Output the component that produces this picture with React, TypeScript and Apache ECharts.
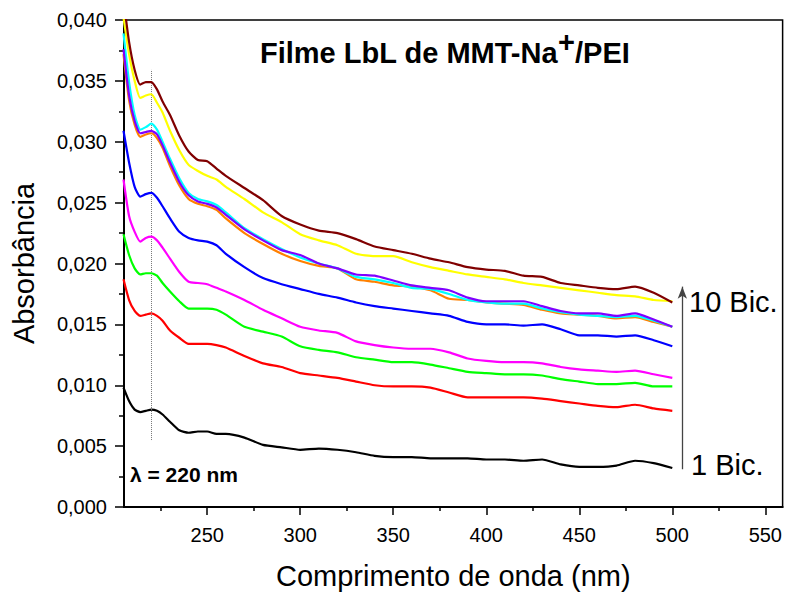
import React, { useEffect, useRef } from "react";
import * as echarts from "echarts";

const wavelengths = [205, 208, 211, 214, 217, 220, 223, 226, 230, 235, 240, 245, 250, 255, 260, 270, 280, 290, 300, 310, 320, 330, 340, 350, 360, 370, 380, 390, 400, 410, 420, 430, 440, 450, 460, 470, 480, 490, 500];

const bic1 = [0.0098, 0.0087, 0.0080, 0.0078, 0.0079, 0.0080, 0.0079, 0.0076, 0.0070, 0.0063, 0.0061, 0.0062, 0.0062, 0.0060, 0.0060, 0.0057, 0.0051, 0.0049, 0.0047, 0.0048, 0.0047, 0.0045, 0.0042, 0.0041, 0.0041, 0.0040, 0.0040, 0.0040, 0.0039, 0.0039, 0.0038, 0.0039, 0.0035, 0.0033, 0.0033, 0.0034, 0.0038, 0.0036, 0.0032];
const bic2 = [0.0187, 0.0170, 0.0161, 0.0157, 0.0158, 0.0159, 0.0157, 0.0153, 0.0145, 0.0139, 0.0134, 0.0134, 0.0134, 0.0133, 0.0131, 0.0124, 0.0118, 0.0115, 0.0110, 0.0108, 0.0106, 0.0103, 0.0100, 0.0099, 0.0099, 0.0098, 0.0094, 0.0090, 0.0090, 0.0090, 0.0090, 0.0089, 0.0087, 0.0085, 0.0083, 0.0082, 0.0084, 0.0081, 0.0079];
const bic3 = [0.0224, 0.0207, 0.0196, 0.0191, 0.0192, 0.0192, 0.0190, 0.0184, 0.0177, 0.0169, 0.0163, 0.0163, 0.0163, 0.0162, 0.0158, 0.0148, 0.0144, 0.0140, 0.0132, 0.0129, 0.0127, 0.0123, 0.0121, 0.0119, 0.0119, 0.0117, 0.0114, 0.0111, 0.0110, 0.0109, 0.0109, 0.0108, 0.0105, 0.0103, 0.0101, 0.0101, 0.0102, 0.0099, 0.0099];
const bic4 = [0.0269, 0.0239, 0.0226, 0.0218, 0.0221, 0.0222, 0.0219, 0.0213, 0.0204, 0.0193, 0.0185, 0.0184, 0.0183, 0.0180, 0.0177, 0.0170, 0.0162, 0.0155, 0.0148, 0.0145, 0.0143, 0.0136, 0.0133, 0.0131, 0.0130, 0.0130, 0.0127, 0.0122, 0.0120, 0.0119, 0.0119, 0.0118, 0.0115, 0.0113, 0.0112, 0.0111, 0.0112, 0.0109, 0.0106];
const bic5 = [0.0309, 0.0283, 0.0263, 0.0255, 0.0257, 0.0258, 0.0254, 0.0247, 0.0237, 0.0226, 0.0221, 0.0219, 0.0218, 0.0215, 0.0208, 0.0197, 0.0188, 0.0183, 0.0179, 0.0175, 0.0172, 0.0168, 0.0165, 0.0163, 0.0161, 0.0159, 0.0157, 0.0152, 0.0150, 0.0150, 0.0149, 0.0150, 0.0146, 0.0141, 0.0141, 0.0140, 0.0141, 0.0137, 0.0132];
const bic6 = [0.0372, 0.0334, 0.0314, 0.0304, 0.0306, 0.0307, 0.0303, 0.0295, 0.0280, 0.0264, 0.0253, 0.0249, 0.0247, 0.0244, 0.0237, 0.0225, 0.0216, 0.0208, 0.0202, 0.0198, 0.0196, 0.0187, 0.0185, 0.0182, 0.0181, 0.0178, 0.0171, 0.0170, 0.0168, 0.0167, 0.0166, 0.0162, 0.0159, 0.0158, 0.0157, 0.0155, 0.0156, 0.0152, 0.0148];
const bic7 = [0.0389, 0.0349, 0.0322, 0.0310, 0.0312, 0.0315, 0.0310, 0.0300, 0.0286, 0.0270, 0.0258, 0.0253, 0.0251, 0.0248, 0.0242, 0.0229, 0.0220, 0.0212, 0.0205, 0.0200, 0.0196, 0.0189, 0.0187, 0.0184, 0.0180, 0.0179, 0.0175, 0.0170, 0.0168, 0.0167, 0.0167, 0.0163, 0.0160, 0.0158, 0.0157, 0.0156, 0.0157, 0.0153, 0.0148];
const bic8 = [0.0376, 0.0338, 0.0317, 0.0307, 0.0308, 0.0309, 0.0306, 0.0297, 0.0283, 0.0267, 0.0256, 0.0251, 0.0249, 0.0246, 0.0240, 0.0228, 0.0219, 0.0211, 0.0207, 0.0200, 0.0196, 0.0191, 0.0190, 0.0186, 0.0182, 0.0180, 0.0178, 0.0172, 0.0169, 0.0169, 0.0169, 0.0165, 0.0161, 0.0159, 0.0159, 0.0157, 0.0159, 0.0154, 0.0148];
const bic9 = [0.0402, 0.0372, 0.0350, 0.0336, 0.0338, 0.0339, 0.0332, 0.0324, 0.0309, 0.0293, 0.0281, 0.0276, 0.0272, 0.0269, 0.0263, 0.0253, 0.0242, 0.0234, 0.0224, 0.0219, 0.0215, 0.0208, 0.0206, 0.0206, 0.0201, 0.0197, 0.0194, 0.0191, 0.0189, 0.0187, 0.0184, 0.0182, 0.0180, 0.0178, 0.0176, 0.0174, 0.0173, 0.0170, 0.0169];
const bic10 = [0.0417, 0.0382, 0.0359, 0.0347, 0.0349, 0.0349, 0.0343, 0.0333, 0.0322, 0.0305, 0.0292, 0.0285, 0.0284, 0.0278, 0.0272, 0.0262, 0.0252, 0.0239, 0.0232, 0.0227, 0.0225, 0.0220, 0.0214, 0.0211, 0.0208, 0.0204, 0.0201, 0.0197, 0.0195, 0.0194, 0.0190, 0.0189, 0.0184, 0.0182, 0.0180, 0.0179, 0.0181, 0.0176, 0.0168];

const seriesNames = ["1 Bic.", "2 Bic.", "3 Bic.", "4 Bic.", "5 Bic.", "6 Bic.", "7 Bic.", "8 Bic.", "9 Bic.", "10 Bic."];
const seriesValues = [bic1, bic2, bic3, bic4, bic5, bic6, bic7, bic8, bic9, bic10];
const seriesColors = ["#000000", "#ff0000", "#00ff00", "#ff00ff", "#0000ff", "#ff8000", "#00ffff", "#8000ff", "#ffff00", "#800000"];

const xMajorTicks = [250, 300, 350, 400, 450, 500, 550];
const xMinorTicks = [225, 275, 325, 375, 425, 475, 525];
const xMin = 205.27;
const xMax = 559.3;

const peakWavelength = 220;
const peakLine = [0.0055, 0.0359];
const arrowX = 505.4;
const arrowRange = [0.0031, 0.0181];

const FONT = '"Liberation Sans", Arial, Helvetica, sans-serif';

export default function App() {
  const ref = useRef<HTMLDivElement>(null);

  useEffect(() => {
    if (!ref.current) return;
    const chart = echarts.init(ref.current, undefined, { renderer: "svg" });

    const series: any[] = seriesValues.map((vals, si) => ({
      name: seriesNames[si],
      type: "line",
      data: wavelengths.map((w, i) => [w, vals[i]]),
      showSymbol: false,
      smooth: 0.2,
      clip: true,
      lineStyle: { color: seriesColors[si], width: 2.2 },
      itemStyle: { color: seriesColors[si] },
      z: 3 + si,
    }));

    series[0].markLine = {
      silent: true,
      animation: false,
      label: { show: false },
      data: [
        [
          { coord: [peakWavelength, peakLine[0]], symbol: "none" },
          { coord: [peakWavelength, peakLine[1]], symbol: "none" },
        ],
        [
          { coord: [arrowX, arrowRange[0]], symbol: "none", lineStyle: { color: "#444", width: 1.3, type: "solid" } },
          { coord: [arrowX, arrowRange[1]], symbol: "arrow", symbolSize: [7, 12] },
        ],
      ],
      lineStyle: { color: "#777", width: 1, type: "dotted" },
    };

    chart.setOption({
      animation: false,
      backgroundColor: "#ffffff",
      textStyle: { fontFamily: FONT },
      grid: {
        left: 124,
        right: 2,
        top: 20,
        bottom: 86,
        show: true,
        borderColor: "#000",
        borderWidth: 1.5,
        backgroundColor: "transparent",
      },
      xAxis: [
        {
          type: "value",
          min: xMin,
          max: xMax,
          position: "bottom",
          name: "Comprimento de onda (nm)",
          nameLocation: "middle",
          nameGap: 54,
          nameTextStyle: { fontSize: 29, color: "#000", fontFamily: FONT },
          axisLine: { show: true, lineStyle: { color: "#000", width: 2 } },
          axisTick: { show: true, inside: false, length: 8, customValues: xMajorTicks, lineStyle: { color: "#000", width: 1.5 } },
          axisLabel: { show: true, customValues: xMajorTicks, margin: 18, fontSize: 20, color: "#000", fontFamily: FONT },
          splitLine: { show: false },
        },
        {
          type: "value",
          min: xMin,
          max: xMax,
          position: "bottom",
          offset: 0,
          axisLine: { show: false },
          axisTick: { show: true, inside: false, length: 4, customValues: xMinorTicks, lineStyle: { color: "#000", width: 1.5 } },
          axisLabel: { show: false },
          splitLine: { show: false },
        },
      ],
      yAxis: {
        type: "value",
        min: 0,
        max: 0.04,
        interval: 0.005,
        name: "Absorbância",
        nameLocation: "middle",
        nameGap: 86,
        nameTextStyle: { fontSize: 29, color: "#000", fontFamily: FONT },
        axisLine: { show: true, lineStyle: { color: "#000", width: 2 } },
        axisTick: { show: true, inside: false, length: 9, lineStyle: { color: "#000", width: 1.5 } },
        minorTick: { show: true, splitNumber: 2, length: 5, lineStyle: { color: "#000", width: 1.5 } },
        axisLabel: {
          margin: 17,
          fontSize: 20,
          color: "#000",
          fontFamily: FONT,
          formatter: (v: number) => v.toFixed(3).replace(".", ","),
        },
        splitLine: { show: false },
      },
      graphic: [
        {
          type: "text",
          x: 260,
          y: 53,
          style: { text: "Filme LbL de MMT-Na", fontSize: 29, fontWeight: "bold", fontFamily: FONT, fill: "#000", verticalAlign: "middle", align: "left" },
        },
        {
          type: "text",
          x: 558,
          y: 42,
          style: { text: "+", fontSize: 29, fontWeight: "bold", fontFamily: FONT, fill: "#000", verticalAlign: "middle", align: "left" },
        },
        {
          type: "text",
          x: 575,
          y: 53,
          style: { text: "/PEI", fontSize: 29, fontWeight: "bold", fontFamily: FONT, fill: "#000", verticalAlign: "middle", align: "left" },
        },
        {
          type: "text",
          x: 130,
          y: 474,
          style: {
            text: "{a|λ = }{b|220 nm}",
            verticalAlign: "middle",
            align: "left",
            rich: {
              a: { fontSize: 21, fontFamily: FONT, fill: "#000", fontWeight: "bold" },
              b: { fontSize: 21, fontFamily: FONT, fill: "#000", fontWeight: "bold" },
            },
          },
        },
        {
          type: "text",
          x: 689,
          y: 302,
          style: { text: "10 Bic.", fontSize: 29, fontFamily: FONT, fill: "#000", verticalAlign: "middle", align: "left" },
        },
        {
          type: "text",
          x: 691,
          y: 465,
          style: { text: "1 Bic.", fontSize: 29, fontFamily: FONT, fill: "#000", verticalAlign: "middle", align: "left" },
        },
      ],
      series,
    });

    return () => chart.dispose();
  }, []);

  return (
    <div
      ref={ref}
      style={{ position: "fixed", left: 0, top: 0, width: 785, height: 595, background: "#fff" }}
    />
  );
}
